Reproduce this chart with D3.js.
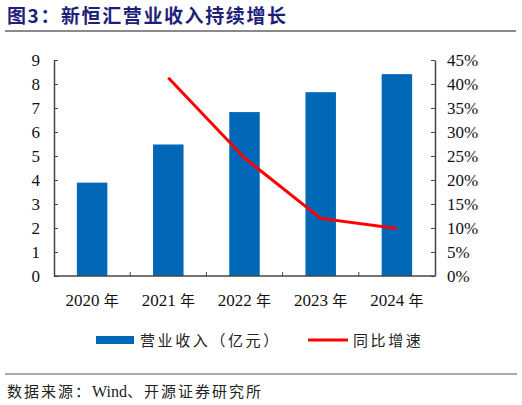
<!DOCTYPE html>
<html>
<head>
<meta charset="utf-8">
<script src="https://cdn.jsdelivr.net/npm/d3@7"></script>
<style>
  body { margin: 0; background: #fff; }
  svg { display: block; }
</style>
</head>
<body>
<div id="chart"></div>
<script>
// Chart data
const years = ["2020 年", "2021 年", "2022 年", "2023 年", "2024 年"];
const revenue = [3.89, 5.48, 6.83, 7.66, 8.41];      // 营业收入（亿元）
const growth = [null, 41.3, 24.6, 12.0, 9.9];         // 同比增速 (%)
const leftTicks = [0, 1, 2, 3, 4, 5, 6, 7, 8, 9];
const rightTicks = [0, 5, 10, 15, 20, 25, 30, 35, 40, 45];

const W = 522, H = 405;
const margin = {top: 60, right: 87, bottom: 129, left: 54};
const width = W - margin.left - margin.right,
      height = H - margin.top - margin.bottom;

const serif = "'Liberation Serif', 'Times New Roman', serif";
const cjk = "'Noto Sans CJK SC', sans-serif";

const svg = d3.select("#chart").append("svg")
    .attr("width", W)
    .attr("height", H);

// Title and rules
svg.append("text")
    .attr("x", 7)
    .attr("y", 23)
    .attr("fill", "#1f1f7a")
    .attr("font-family", cjk)
    .attr("font-weight", "bold")
    .attr("font-size", 19)
    .attr("letter-spacing", 1.6)
    .text("图3：新恒汇营业收入持续增长");

svg.append("line")
    .attr("x1", 5).attr("x2", 516)
    .attr("y1", 31).attr("y2", 31)
    .attr("stroke", "#8a8a8a")
    .attr("stroke-width", 2);

svg.append("line")
    .attr("x1", 5).attr("x2", 517)
    .attr("y1", 374).attr("y2", 374)
    .attr("stroke", "#555")
    .attr("stroke-width", 1);

const source = svg.append("text")
    .attr("x", 7)
    .attr("y", 397)
    .attr("fill", "#222")
    .attr("font-family", cjk)
    .attr("font-size", 15)
    .attr("letter-spacing", 2);
source.append("tspan").text("数据来源：");
source.append("tspan").attr("font-family", serif).attr("font-size", 16).attr("letter-spacing", 0).text("Wind");
source.append("tspan").text("、开源证券研究所");

const g = svg.append("g")
    .attr("transform", `translate(${margin.left},${margin.top})`);

// Scales
const x = d3.scaleBand()
    .domain(years)
    .range([0, width])
    .paddingInner(0.6)
    .paddingOuter(0.3);

const y = d3.scaleLinear().domain([0, 9]).range([height, 0]);
const y2 = d3.scaleLinear().domain([0, 45]).range([height, 0]);

// Bars
g.selectAll("rect.bar")
    .data(revenue)
    .enter()
    .append("rect")
    .attr("class", "bar")
    .attr("x", (d, i) => x(years[i]))
    .attr("y", d => y(d))
    .attr("width", x.bandwidth())
    .attr("height", d => height - y(d))
    .attr("fill", "#0068b7");

// Growth line
const lineData = growth.map((v, i) => ({year: years[i], v: v})).filter(d => d.v !== null);
g.append("path")
    .datum(lineData)
    .attr("fill", "none")
    .attr("stroke", "#ff0000")
    .attr("stroke-width", 3)
    .attr("d", d3.line()
        .x(d => x(d.year) + x.bandwidth() / 2)
        .y(d => y2(d.v)));

// Axes
const axisColor = "#444";

const leftAxis = g.append("g")
    .call(d3.axisLeft(y).tickValues(leftTicks).tickSizeInner(-4).tickSizeOuter(0).tickPadding(12));

const rightAxis = g.append("g")
    .attr("transform", `translate(${width},0)`)
    .call(d3.axisRight(y2).tickValues(rightTicks).tickFormat(d => d + "%")
        .tickSizeInner(-4).tickSizeOuter(0).tickPadding(12));

// x axis: ticks at band boundaries pointing inward
const bounds = d3.range(1, years.length).map(i => i * width / years.length);
const xAxis = g.append("g").attr("transform", `translate(0,${height})`);
xAxis.append("line")
    .attr("x1", 0).attr("x2", width)
    .attr("stroke", axisColor).attr("stroke-width", 1.5);
xAxis.selectAll("line.tk")
    .data(bounds)
    .enter()
    .append("line")
    .attr("class", "tk")
    .attr("x1", d => d).attr("x2", d => d)
    .attr("y1", 0).attr("y2", -4)
    .attr("stroke", axisColor);
xAxis.selectAll("text")
    .data(years)
    .enter()
    .append("text")
    .attr("x", d => x(d) + x.bandwidth() / 2)
    .attr("y", 30)
    .attr("text-anchor", "middle")
    .attr("fill", "#111")
    .attr("font-size", 17)
    .each(function(d) {
        const parts = d.split(" ");
        const t = d3.select(this);
        t.append("tspan").attr("font-family", serif).text(parts[0] + " ");
        t.append("tspan").attr("font-family", cjk).attr("font-size", 15).text(parts[1]);
    });

[leftAxis, rightAxis].forEach(a => {
    a.select(".domain").attr("stroke", axisColor).attr("stroke-width", 1.5);
    a.selectAll(".tick line").attr("stroke", axisColor);
    a.selectAll(".tick text")
        .attr("font-family", serif)
        .attr("font-size", 17)
        .attr("fill", "#111");
});
leftAxis.selectAll(".tick text").attr("dx", -2);

// Legend
const legend = svg.append("g").attr("font-family", cjk).attr("font-size", 15)
    .attr("letter-spacing", 2.6).attr("fill", "#222");
legend.append("rect")
    .attr("x", 96).attr("y", 336)
    .attr("width", 38).attr("height", 8)
    .attr("fill", "#0068b7");
legend.append("text")
    .attr("x", 140).attr("y", 346)
    .text("营业收入（亿元）");
legend.append("line")
    .attr("x1", 308).attr("x2", 348)
    .attr("y1", 340).attr("y2", 340)
    .attr("stroke", "#ff0000")
    .attr("stroke-width", 3);
legend.append("text")
    .attr("x", 353).attr("y", 346)
    .text("同比增速");
</script>
</body>
</html>
